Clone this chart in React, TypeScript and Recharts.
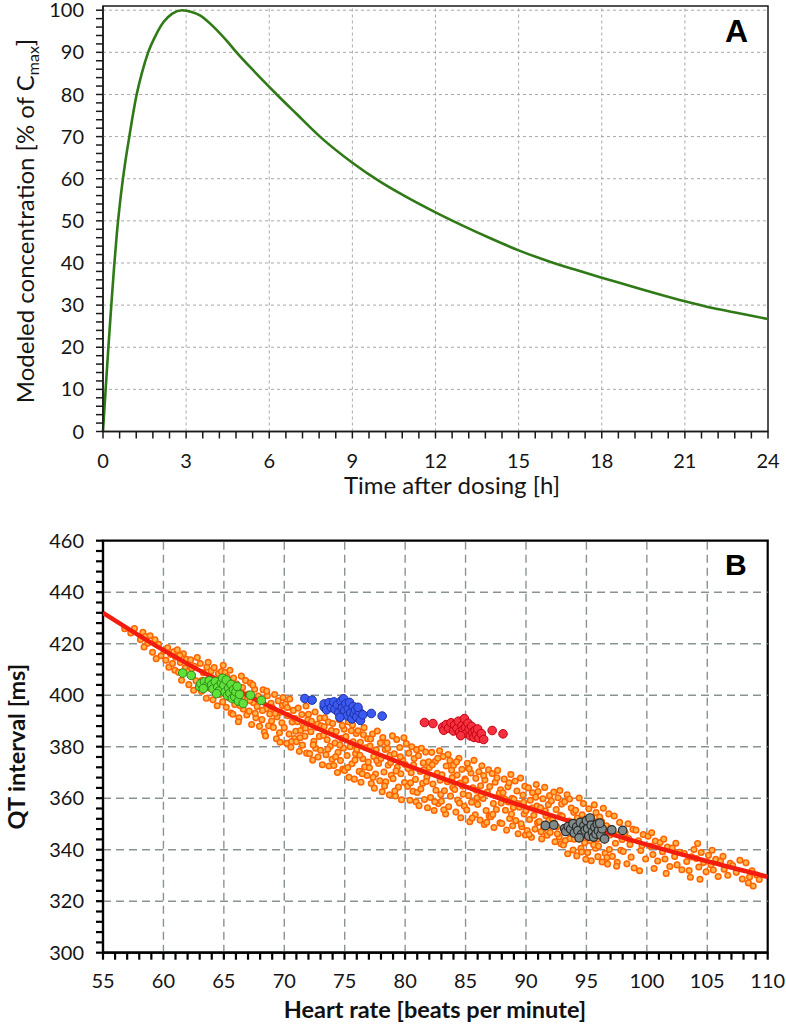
import React from "react";
import {
  LineChart,
  Line,
  ScatterChart,
  Scatter,
  XAxis,
  YAxis,
  ReferenceLine,
  ReferenceArea,
} from "recharts";

// ---- Panel A: modeled concentration curve ----
const timeH = [
  0, 0.1, 0.2, 0.3, 0.4, 0.5, 0.6, 0.7, 0.8, 0.95, 1.2, 1.4, 1.63, 1.9, 2.2, 2.5,
  2.85, 3.2, 3.5, 4, 4.5, 4.82, 5.5, 6, 6.27, 7, 7.83, 9, 10, 10.72, 12, 13, 14,
  15, 16, 17, 18, 19, 20, 21, 22, 23, 24,
];
const concPct = [
  0, 10.5, 20.5, 30, 39, 47, 53.5, 59, 63.8, 70, 79.5, 85, 90, 94, 97.3, 99.2,
  100, 99.6, 98.8, 96, 92.5, 90, 85.2, 81.8, 80, 75.3, 70, 63.8, 59.3, 56.5, 52,
  48.8, 45.8, 43, 40.6, 38.5, 36.5, 34.6, 32.7, 30.9, 29.3, 28, 26.7,
];
const timeTicks = [0, 3, 6, 9, 12, 15, 18, 21, 24];
const concTicks = [0, 10, 20, 30, 40, 50, 60, 70, 80, 90, 100];

// ---- Panel B: QT vs heart rate ----
const hrTicks = [55, 60, 65, 70, 75, 80, 85, 90, 95, 100, 105, 110];
const qtTicks = [300, 320, 340, 360, 380, 400, 420, 440, 460];

const fitHr = [55, 60, 65, 70, 75, 80, 85, 90, 95, 100, 105, 110];
const fitQt = [432, 417.5, 404.5, 393, 382.5, 373, 364.5, 356.5, 349, 342, 335.5, 329.5];

const orangeCloud: [number, number][] = [
  [56.8,425.8],[57.3,424.2],[57.6,425.9],
  [58.1,421.6],[58.3,424.4],[58.5,422.8],[58.7,420.2],[58.9,423.1],[58.4,418.7],
  [59.1,416.7],[59.3,421.5],[59.6,419.8],[59.8,415.3],[59.4,414.2],
  [60.05,417.2],[60.2,413.6],[60.35,418.4],[60.45,410.9],[60.6,415.8],[60.75,412.3],[60.85,416.9],[60.95,409.7],
  [61.0,414.8],[61.15,417.6],[61.25,408.9],[61.4,412.7],[61.5,405.8],[61.65,416.1],[61.8,410.5],[61.9,413.9],[61.35,415.4],
  [62.05,409.3],[62.1,404.1],[62.25,413.7],[62.4,407.5],[62.5,401.9],[62.55,411.2],[62.7,405.6],[62.8,414.6],[62.9,403.2],[62.35,410.4],
  [63.05,412.3],[63.15,401.5],[63.3,408.7],[63.4,404.9],[63.55,398.8],[63.6,410.9],[63.75,406.2],[63.85,402.7],[63.95,409.4],[63.2,405.8],[63.7,412.8],
  [64.0,406.9],[64.1,398.2],[64.2,410.7],[64.35,402.6],[64.45,395.9],[64.55,408.4],[64.65,400.3],[64.75,404.5],[64.9,397.4],[64.95,411.6],[64.3,406.1],[64.8,409.2],
  [65.0,401.7],[65.1,408.8],[65.2,395.3],[65.3,404.6],[65.45,398.9],[65.5,409.7],[65.6,393.1],[65.7,403.2],[65.8,406.7],[65.9,396.4],[65.35,400.2],[65.75,392.6],[65.25,407.1],
  [66.05,404.3],[66.15,397.8],[66.25,391.2],[66.4,401.5],[66.45,407.4],[66.6,394.6],[66.7,399.1],[66.8,405.7],[66.9,392.3],[66.35,395.9],[66.55,403.0],[66.95,398.4],[66.2,389.7],
  [67.0,400.4],[67.1,393.8],[67.2,404.7],[67.3,388.6],[67.45,397.1],[67.55,402.3],[67.65,391.2],[67.75,395.6],[67.85,399.7],[67.95,387.9],[67.4,404.0],[67.6,393.0],[67.15,397.9],
  [68.05,398.3],[68.15,390.5],[68.25,402.1],[68.35,385.7],[68.5,394.8],[68.6,399.8],[68.7,388.1],[68.8,392.7],[68.9,396.9],[68.45,384.2],[68.55,401.6],[68.95,390.0],[68.2,394.1],
  [69.0,395.2],[69.1,387.5],[69.2,400.3],[69.35,383.1],[69.4,391.6],[69.5,397.8],[69.6,385.4],[69.7,393.4],[69.8,389.3],[69.9,399.1],[69.25,392.9],[69.65,381.7],[69.85,396.0],
  [70.0,387.4],[70.1,396.6],[70.2,381.3],[70.3,392.0],[70.4,384.9],[70.45,398.5],[70.55,379.8],[70.65,389.6],[70.75,394.1],[70.85,383.2],[70.9,390.9],[70.95,386.0],[70.25,395.2],[70.6,382.0],
  [71.0,381.9],[71.1,389.7],[71.15,395.0],[71.25,378.2],[71.35,386.3],[71.45,392.5],[71.5,380.6],[71.6,388.0],[71.7,384.1],[71.8,395.8],[71.85,377.5],[71.95,390.4],[71.3,383.5],[71.75,387.2],
  [72.0,392.6],[72.1,377.3],[72.2,385.8],[72.25,389.9],[72.35,374.8],[72.45,382.1],[72.55,393.5],[72.6,379.4],[72.7,387.5],[72.8,376.0],[72.9,384.0],[72.95,391.1],[72.4,380.7],[72.75,388.8],
  [73.0,378.6],[73.05,388.1],[73.15,373.0],[73.25,384.4],[73.35,391.2],[73.45,376.9],[73.55,382.7],[73.65,389.6],[73.7,372.5],[73.8,380.2],[73.9,386.3],[73.95,375.1],[73.3,387.7],[73.6,379.0],
  [74.0,389.0],[74.1,372.7],[74.2,381.4],[74.3,385.9],[74.4,370.0],[74.45,377.8],[74.55,390.5],[74.65,374.6],[74.75,383.3],[74.85,371.3],[74.9,379.5],[74.95,386.8],[74.25,376.1],[74.6,380.7],[74.8,388.2],
  [75.0,370.8],[75.1,383.9],[75.2,376.6],[75.3,389.6],[75.35,368.1],[75.45,380.0],[75.55,386.2],[75.6,373.4],[75.7,381.9],[75.8,367.4],[75.9,377.3],[75.95,385.1],[75.25,371.9],[75.65,388.4],[75.85,374.8],
  [76.0,378.9],[76.1,386.2],[76.2,370.4],[76.3,381.7],[76.35,366.2],[76.5,375.3],[76.55,384.6],[76.65,372.1],[76.75,379.6],[76.85,368.8],[76.9,383.1],[76.25,376.7],[76.6,387.4],[76.95,374.0],[76.45,369.5],
  [77.05,371.8],[77.1,380.3],[77.2,365.7],[77.3,384.9],[77.4,376.2],[77.45,363.9],[77.55,369.4],[77.6,378.8],[77.7,386.1],[77.8,373.5],[77.9,366.8],[77.95,381.4],[77.35,368.1],[77.65,374.6],[77.15,383.0],
  [78.0,375.4],[78.1,362.5],[78.15,383.6],[78.25,370.2],[78.35,378.9],[78.4,366.4],[78.5,381.5],[78.6,372.8],[78.7,361.3],[78.75,376.7],[78.85,368.9],[78.95,384.2],[78.3,364.7],[78.55,379.3],[78.8,373.9],
  [79.0,367.6],[79.1,377.2],[79.2,360.9],[79.3,382.8],[79.35,372.0],[79.45,364.3],[79.55,379.7],[79.65,369.5],[79.7,359.4],[79.8,374.8],[79.9,383.5],[79.95,366.1],[79.25,370.6],[79.6,376.1],[79.15,362.8],
  [80.0,373.1],[80.1,381.2],[80.2,364.6],[80.3,377.5],[80.4,359.2],[80.5,369.9],[80.55,380.0],[80.65,362.7],[80.75,375.4],[80.85,367.3],[80.9,358.6],[80.95,378.8],[80.25,371.5],[80.45,366.0],[80.7,372.9],
  [81.0,362.2],[81.1,376.5],[81.15,357.1],[81.25,370.4],[81.35,379.4],[81.45,365.8],[81.5,373.7],[81.6,359.5],[81.7,377.9],[81.8,368.2],[81.85,356.3],[81.95,374.1],[81.3,363.6],[81.55,371.0],[81.75,366.5],
  [82.0,371.9],[82.1,360.3],[82.2,377.8],[82.3,365.5],[82.4,355.2],[82.5,374.3],[82.55,363.1],[82.65,369.7],[82.75,357.9],[82.85,378.4],[82.9,367.0],[82.95,361.4],[82.25,373.0],[82.45,358.6],[82.7,375.5],
  [83.0,358.8],[83.05,369.1],[83.15,376.2],[83.25,362.9],[83.35,353.9],[83.4,372.5],[83.5,366.4],[83.6,356.7],[83.7,374.6],[83.75,360.8],[83.85,370.9],[83.95,364.2],[83.2,355.5],[83.55,377.0],[83.9,368.0],
  [84.0,372.8],[84.1,363.4],[84.2,354.6],[84.3,369.0],[84.35,359.3],[84.45,375.5],[84.55,365.9],[84.6,352.4],[84.7,371.2],[84.8,361.6],[84.9,356.9],[84.95,367.4],[84.25,374.1],[84.5,358.1],[84.75,364.7],
  [85.0,366.9],[85.1,355.4],[85.15,373.6],[85.25,361.0],[85.35,350.9],[85.45,369.8],[85.5,358.4],[85.6,364.0],[85.7,374.7],[85.8,353.6],[85.85,367.7],[85.95,360.2],[85.3,371.4],[85.55,352.3],[85.9,363.1],
  [86.0,357.6],[86.1,370.3],[86.2,351.5],[86.25,364.8],[86.35,372.6],[86.45,359.9],[86.55,349.8],[86.6,367.1],[86.7,355.2],[86.8,362.4],[86.9,371.0],[86.95,353.1],[86.3,361.3],[86.5,368.8],[86.75,350.6],
  [87.0,364.5],[87.1,352.8],[87.2,369.6],[87.3,357.9],[87.35,348.6],[87.45,366.2],[87.55,355.6],[87.65,370.8],[87.75,360.9],[87.85,350.4],[87.9,363.3],[87.95,358.1],[87.25,353.7],[87.6,367.9],[87.8,361.9],
  [88.0,350.2],[88.1,362.1],[88.2,367.4],[88.3,355.3],[88.4,347.6],[88.5,364.4],[88.55,358.5],[88.65,352.1],[88.75,369.2],[88.85,360.0],[88.9,349.3],[88.95,356.4],[88.25,359.7],[88.6,366.0],[88.8,353.8],
  [89.0,359.6],[89.1,366.7],[89.15,351.3],[89.25,362.8],[89.35,346.2],[89.45,356.5],[89.55,367.8],[89.65,348.9],[89.75,361.2],[89.85,353.9],[89.9,364.6],[89.95,345.7],[89.3,357.9],[89.6,350.1],[89.8,358.4],
  [90.0,355.1],[90.1,347.4],[90.2,364.0],[90.3,351.7],[90.35,359.2],[90.45,344.8],[90.55,362.1],[90.65,353.4],[90.75,348.0],[90.85,365.3],[90.9,357.0],[90.95,350.5],[90.25,345.9],[90.5,356.2],[90.8,360.4],
  [91.0,362.6],[91.1,350.9],[91.2,356.3],[91.3,344.2],[91.4,359.8],[91.45,348.1],[91.55,364.2],[91.65,353.2],[91.75,345.6],[91.85,357.5],[91.9,351.4],[91.95,361.0],[91.25,347.0],[91.6,355.1],[91.8,349.3],
  [92.0,346.7],[92.1,358.9],[92.2,351.8],[92.3,362.4],[92.4,343.1],[92.5,355.6],[92.55,348.9],[92.65,360.2],[92.75,345.0],[92.85,353.4],[92.9,342.3],[92.95,357.7],[92.35,350.3],[92.6,346.2],[92.8,363.0],
  [93.0,353.0],[93.1,341.8],[93.2,358.6],[93.3,347.7],[93.4,361.3],[93.45,338.4],[93.55,351.1],[93.65,344.3],[93.75,356.2],[93.85,349.0],[93.9,339.9],[93.95,354.5],[93.25,343.6],[93.6,359.7],[93.8,346.4],
  [94.0,344.1],[94.1,355.3],[94.2,337.6],[94.3,350.2],[94.4,360.1],[94.45,346.8],[94.55,340.5],[94.65,353.6],[94.75,357.9],[94.85,342.7],[94.9,348.9],[94.95,336.3],[94.25,352.3],[94.6,339.1],[94.8,345.4],
  [95.0,349.6],[95.1,338.9],[95.2,355.9],[95.3,343.5],[95.4,335.7],[95.45,352.3],[95.55,346.0],[95.65,357.4],[95.75,340.6],[95.85,350.8],[95.9,344.2],[95.95,337.3],[95.25,348.1],[95.6,341.9],[95.8,354.4],
  [96.0,341.4],[96.1,352.7],[96.2,346.5],[96.3,335.2],[96.4,356.1],[96.5,343.8],[96.55,338.6],[96.65,349.3],[96.75,334.4],[96.85,353.9],[96.9,340.1],[96.95,345.7],[96.25,350.9],[96.7,337.0],
  [97.0,348.3],[97.15,337.4],[97.3,353.1],[97.4,342.5],[97.55,335.1],[97.65,345.9],[97.75,350.6],[97.85,339.8],[97.95,344.0],[97.5,333.6],
  [98.05,339.3],[98.2,346.6],[98.35,334.5],[98.45,350.1],[98.6,342.0],[98.7,337.1],[98.85,347.9],[98.95,332.9],[98.5,344.3],
  [99.1,347.6],[99.3,343.5],[99.5,339.7],[99.7,345.9],[99.9,336.4],[99.4,331.8],[99.6,341.6],
  [100.1,345.2],[100.3,341.3],[100.5,338.1],[100.7,343.4],[100.9,335.6],[100.4,346.6],[100.6,332.7],
  [101.1,342.8],[101.3,339.2],[101.5,336.4],[101.7,341.0],[101.9,333.5],[101.4,344.1],[101.6,330.8],
  [102.1,340.6],[102.3,337.4],[102.5,334.1],[102.7,339.0],[102.9,332.2],[102.4,342.5],
  [103.1,338.5],[103.3,335.4],[103.5,331.9],[103.7,337.2],[103.9,340.1],[103.6,329.3],
  [104.1,336.6],[104.3,333.3],[104.5,338.9],[104.7,335.0],[104.9,331.4],[104.2,342.4],[104.4,328.5],
  [105.1,337.8],[105.3,334.2],[105.5,332.1],[105.7,336.3],[105.9,329.6],[105.4,339.8],
  [106.1,335.6],[106.4,332.4],[106.7,330.1],[106.9,334.7],[106.3,337.4],
  [107.1,333.8],[107.4,331.2],[107.7,335.9],[107.9,328.6],
  [108.2,334.9],[108.5,329.4],[108.7,331.8],[108.4,327.1],[108.8,325.9],
  [109.1,330.2],[109.3,328.4],
];

const greenGroup: [number, number][] = [
  [61.6,408.6],[62.3,407.7],[63.0,403.3],[63.1,404.5],[63.4,405.2],[63.6,403.7],[63.8,405.6],[64.0,404.1],
  [64.1,402.4],[64.3,405.3],[64.5,403.2],[64.6,401.6],[64.8,404.8],[64.9,406.6],[65.0,403.8],[65.1,401.2],
  [65.2,405.9],[65.3,399.9],[65.4,402.7],[65.5,400.8],[65.6,404.2],[65.7,398.7],[65.8,402.1],[65.9,399.4],
  [66.0,401.3],[66.2,397.7],[66.3,400.3],[66.1,403.4],[66.6,396.8],[67.2,400.0],[68.1,398.0],[64.4,400.6],[63.3,402.6],
];
const blueGroup: [number, number][] = [
  [71.7,398.7],[72.3,398.1],[73.3,395.4],[73.3,396.6],[73.5,394.3],[73.7,397.1],[73.9,395.2],[74.1,397.4],
  [74.2,394.5],[74.4,396.3],[74.5,393.2],[74.7,397.7],[74.8,395.0],[74.9,398.6],[75.0,394.1],[75.1,396.7],
  [75.2,392.0],[75.3,394.9],[75.4,397.2],[75.5,393.1],[75.6,390.8],[75.7,395.6],[75.8,392.6],[75.9,394.3],
  [76.0,391.5],[76.2,393.6],[76.3,390.2],[76.1,395.3],[76.5,392.4],[74.6,391.4],[77.2,392.9],[78.1,391.9],
];
const redGroup: [number, number][] = [
  [81.6,389.4],[82.3,389.0],[83.1,387.6],[83.2,386.4],[83.4,388.6],[83.6,387.2],[83.8,389.3],[84.0,386.1],
  [84.1,388.5],[84.3,387.0],[84.4,389.9],[84.5,385.6],[84.7,388.1],[84.8,386.6],[84.9,390.9],[85.0,387.5],
  [85.1,385.3],[85.2,389.1],[85.3,386.8],[85.4,384.2],[85.5,387.9],[85.6,385.6],[85.7,383.6],[85.8,386.3],
  [85.9,384.7],[86.0,386.9],[86.1,383.3],[86.3,385.1],[86.5,382.8],[84.6,384.3],[87.2,386.3],[88.1,385.0],
];
const grayGroup: [number, number][] = [
  [91.6,349.4],[92.3,349.6],[93.2,348.2],[93.3,347.1],[93.5,349.0],[93.7,348.0],[93.9,350.1],[94.0,346.5],
  [94.2,348.8],[94.3,347.4],[94.5,350.6],[94.6,345.9],[94.8,349.3],[94.9,347.6],[95.0,351.3],[95.1,348.2],
  [95.2,345.3],[95.3,352.3],[95.4,349.5],[95.5,346.8],[95.6,344.9],[95.7,348.7],[95.8,346.1],[95.9,349.9],
  [96.0,347.4],[96.2,345.7],[96.3,348.1],[96.1,350.3],[96.5,344.2],[94.4,344.6],[97.1,347.7],[98.0,347.5],
];

const curveData = timeH.map((t, i) => ({ t, c: concPct[i] }));
const fitData = fitHr.map((hr, i) => ({ hr, qt: fitQt[i] }));
const toPts = (arr: [number, number][]) => arr.map(([hr, qt]) => ({ hr, qt }));

// minor tick positions (labels only drawn on the major ones)
const timeMinor = Array.from({ length: 41 }, (_, i) => Math.round(i * 6) / 10);
const concMinor = Array.from({ length: 51 }, (_, i) => i * 2);
const hrMinor = Array.from({ length: 56 }, (_, i) => 55 + i);
const qtMinor = Array.from({ length: 41 }, (_, i) => 300 + i * 4);

const FONT = "Lato, 'Open Sans', sans-serif";
const tickStyle = { fontFamily: FONT, fontSize: 20, fill: "#151515" };

const dot = (fill: string, stroke: string, r: number, sw: number) => (p: any) => (
  <circle cx={p.cx} cy={p.cy} r={r} fill={fill} stroke={stroke} strokeWidth={sw} />
);

function PanelA() {
  return (
    <LineChart
      width={786}
      height={500}
      data={curveData}
      margin={{ top: 6, right: 18, bottom: 8.5, left: 20 }}
    >
      {timeTicks.slice(1, -1).map((v) => (
        <ReferenceLine key={"vx" + v} x={v} stroke="#a8a8a8" strokeDasharray="3 3" />
      ))}
      {concTicks.slice(1).map((v) => (
        <ReferenceLine key={"hy" + v} y={v} stroke="#a8a8a8" strokeDasharray="3 3" />
      ))}
      <XAxis
        dataKey="t"
        type="number"
        domain={[0, 24]}
        ticks={timeMinor}
        interval={0}
        tickFormatter={(v: number) => (timeTicks.includes(v) ? String(v) : "")}
        height={60}
        tickSize={7}
        tickMargin={15}
        tick={tickStyle}
        stroke="#1a1a1a"
        strokeWidth={1.5}
        label={{
          content: () => (
            <text x={452} y={494} textAnchor="middle" fontFamily={FONT} fontSize={24} fill="#151515">
              Time after dosing [h]
            </text>
          ),
        }}
      />
      <YAxis
        type="number"
        domain={[0, 101]}
        ticks={concMinor}
        interval={0}
        tickFormatter={(v: number) => (concTicks.includes(v) ? String(v) : "")}
        width={83}
        tickSize={7}
        tickMargin={12}
        tick={tickStyle}
        stroke="#1a1a1a"
        strokeWidth={1.5}
        label={{
          content: () => (
            <text
              transform="translate(34,221) rotate(-90)"
              textAnchor="middle"
              fontFamily={FONT}
              fontSize={24}
              fill="#151515"
            >
              Modeled concentration [% of C
              <tspan fontSize={16} dy={5}>max</tspan>
              <tspan dy={-5}>]</tspan>
            </text>
          ),
        }}
      />
      <Line
        dataKey="c"
        type="monotone"
        stroke="#2f7a17"
        strokeWidth={2.6}
        dot={false}
        isAnimationActive={false}
      />
      <ReferenceArea
        x1={0}
        x2={24}
        y1={0}
        y2={101}
        fill="none"
        stroke="#1a1a1a"
        strokeWidth={1.5}
        label={{
          content: (p: any) => (
            <text
              x={p.viewBox.x + p.viewBox.width - 20}
              y={p.viewBox.y + 35.7}
              textAnchor="end"
              fontFamily="'Liberation Sans', Arial, sans-serif"
              fontWeight="bold"
              fontSize={32}
              fill="#000"
            >
              A
            </text>
          ),
        }}
      />
    </LineChart>
  );
}

function PanelB() {
  return (
    <ScatterChart width={786} height={529} margin={{ top: 40.7, right: 18.3, bottom: 8, left: 20 }}>
      {hrTicks.slice(1, -1).map((v) => (
        <ReferenceLine key={"vx" + v} x={v} stroke="#8a9394" strokeWidth={1.4} strokeDasharray="8 5" />
      ))}
      {qtTicks.slice(1, -1).map((v) => (
        <ReferenceLine key={"hy" + v} y={v} stroke="#8a9394" strokeWidth={1.4} strokeDasharray="8 5" />
      ))}
      <XAxis
        dataKey="hr"
        type="number"
        domain={[55, 110]}
        allowDataOverflow
        ticks={hrMinor}
        interval={0}
        tickFormatter={(v: number) => (hrTicks.includes(v) ? String(v) : "")}
        height={68.3}
        tickSize={7}
        tickMargin={14}
        tick={tickStyle}
        stroke="#000"
        strokeWidth={2.2}
        label={{
          content: () => (
            <text x={435} y={518} textAnchor="middle" fontFamily={FONT} fontWeight="bold" fontSize={23.5} fill="#111">
              Heart rate [beats per minute]
            </text>
          ),
        }}
      />
      <YAxis
        dataKey="qt"
        type="number"
        domain={[300, 460]}
        allowDataOverflow
        ticks={qtMinor}
        interval={0}
        tickFormatter={(v: number) => (qtTicks.includes(v) ? String(v) : "")}
        width={83}
        tickSize={7}
        tickMargin={12}
        tick={tickStyle}
        stroke="#000"
        strokeWidth={2.2}
        label={{
          content: () => (
            <text
              transform="translate(25,246.7) rotate(-90)"
              textAnchor="middle"
              fontFamily={FONT}
              fontWeight="bold"
              fontSize={23.5}
              fill="#111"
            >
              QT interval [ms]
            </text>
          ),
        }}
      />
      <Scatter
        data={toPts(orangeCloud)}
        shape={dot("#ffb34d", "#ff6400", 2.8, 1.5)}
        isAnimationActive={false}
      />
      <Scatter
        data={fitData}
        line={{ stroke: "#f21d0e", strokeWidth: 4.5 }}
        lineJointType="monotoneX"
        shape={() => <g />}
        isAnimationActive={false}
      />
      <Scatter data={toPts(greenGroup)} shape={dot("#5fe03a", "#2f8a1a", 4.3, 1)} isAnimationActive={false} />
      <Scatter data={toPts(blueGroup)} shape={dot("#3b5bf0", "#1f2fa8", 4.3, 1)} isAnimationActive={false} />
      <Scatter data={toPts(redGroup)} shape={dot("#f5303f", "#c40010", 4.3, 1)} isAnimationActive={false} />
      <Scatter data={toPts(grayGroup)} shape={dot("#7f8a8a", "#2a2a2a", 4.3, 1.2)} isAnimationActive={false} />
      <ReferenceArea
        x1={55}
        x2={110}
        y1={300}
        y2={460}
        fill="none"
        stroke="#000"
        strokeWidth={2.2}
        label={{
          content: (p: any) => (
            <text
              x={p.viewBox.x + p.viewBox.width - 21}
              y={p.viewBox.y + 34.3}
              textAnchor="end"
              fontFamily="'Liberation Sans', Arial, sans-serif"
              fontWeight="bold"
              fontSize={30}
              fill="#000"
            >
              B
            </text>
          ),
        }}
      />
    </ScatterChart>
  );
}

export default function App() {
  return (
    <div style={{ position: "absolute", left: 0, top: 0, width: 786, height: 1029, background: "#fff" }}>
      <PanelA />
      <PanelB />
    </div>
  );
}
